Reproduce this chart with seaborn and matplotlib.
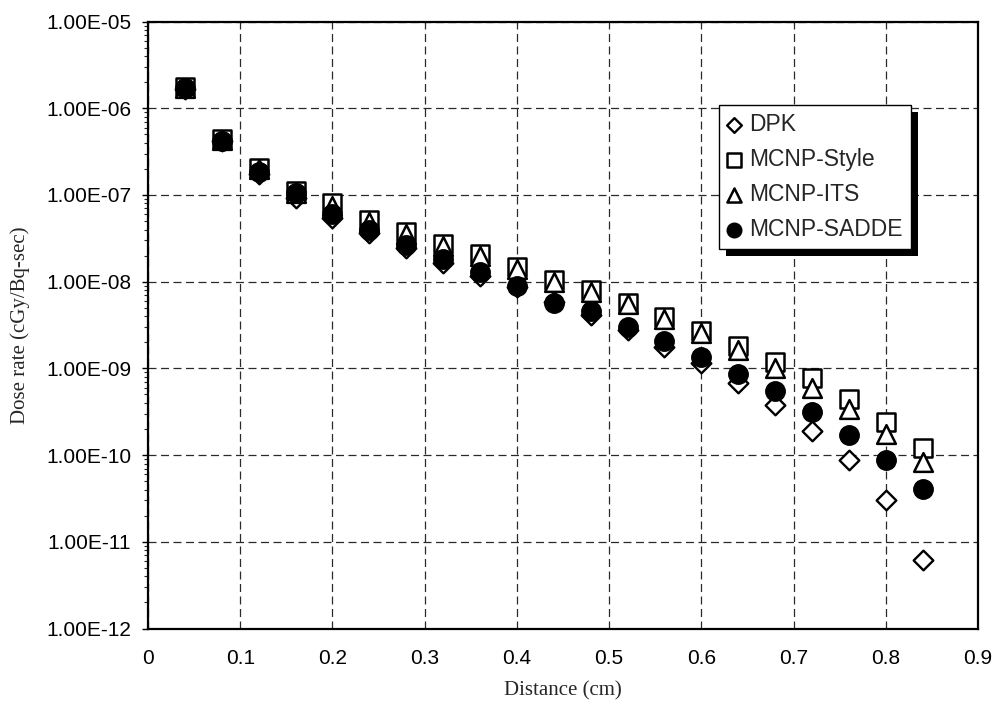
import numpy as np
import pandas as pd
import matplotlib
matplotlib.use("Agg")
import matplotlib.pyplot as plt
import seaborn as sns
from matplotlib.ticker import LogLocator, FuncFormatter, MultipleLocator, NullFormatter, FixedLocator
from matplotlib.patches import Rectangle

distance = [0.04, 0.08, 0.12, 0.16, 0.20, 0.24, 0.28, 0.32, 0.36, 0.40, 0.44,
            0.48, 0.52, 0.56, 0.60, 0.64, 0.68, 0.72, 0.76, 0.80, 0.84]
dpk = [1.65e-6, 4.2e-7, 1.75e-7, 9.2e-8, 5.5e-8, 3.6e-8, 2.45e-8, 1.66e-8, 1.17e-8,
       8.6e-9, 5.8e-9, 4.1e-9, 2.75e-9, 1.78e-9, 1.15e-9, 6.7e-10, 3.8e-10,
       1.9e-10, 8.8e-11, 3.0e-11, 6.2e-12]
mcnp_style = [1.75e-6, 4.45e-7, 2.05e-7, 1.1e-7, 8.0e-8, 5.2e-8, 3.7e-8, 2.7e-8, 2.06e-8,
              1.47e-8, 1.06e-8, 8.0e-9, 5.7e-9, 3.95e-9, 2.7e-9, 1.82e-9, 1.17e-9,
              7.7e-10, 4.46e-10, 2.43e-10, 1.2e-10]
mcnp_its = [1.7e-6, 4.3e-7, 2.0e-7, 1.05e-7, 7.5e-8, 4.9e-8, 3.55e-8, 2.6e-8, 2.0e-8,
            1.4e-8, 1.0e-8, 7.6e-9, 5.5e-9, 3.7e-9, 2.54e-9, 1.64e-9, 1.02e-9,
            6.0e-10, 3.42e-10, 1.75e-10, 8.4e-11]
mcnp_sadde = [1.7e-6, 4.2e-7, 1.85e-7, 1.05e-7, 6.0e-8, 4.0e-8, 2.65e-8, 1.85e-8, 1.3e-8,
              8.9e-9, 5.7e-9, 4.6e-9, 3.03e-9, 2.08e-9, 1.36e-9, 8.7e-10, 5.5e-10,
              3.14e-10, 1.7e-10, 8.8e-11, 4.1e-11]
series_names = ["DPK", "MCNP-Style", "MCNP-ITS", "MCNP-SADDE"]
y_ticks = [1e-12, 1e-11, 1e-10, 1e-9, 1e-8, 1e-7, 1e-6, 1e-5]
x_ticks = [0, 0.1, 0.2, 0.3, 0.4, 0.5, 0.6, 0.7, 0.8, 0.9]

df = pd.DataFrame({"Distance": distance, "DPK": dpk, "MCNP-Style": mcnp_style,
                   "MCNP-ITS": mcnp_its, "MCNP-SADDE": mcnp_sadde})

sns.set_style("white")
plt.rcParams["font.family"] = ["Liberation Sans", "DejaVu Sans"]

fig = plt.figure(figsize=(9.97, 7.10), dpi=100)
ax = fig.add_axes([148/997, 1-628.5/710, 830/997, 606.9/710])

styles = {
    "DPK": dict(marker="D", s=10.0**2, facecolor="white", edgecolor="black", linewidth=1.7),
    "MCNP-Style": dict(marker="s", s=13.0**2, facecolor="white", edgecolor="black", linewidth=1.8),
    "MCNP-ITS": dict(marker="^", s=13.5**2, facecolor="white", edgecolor="black", linewidth=1.8),
    "MCNP-SADDE": dict(marker="o", s=14.0**2, facecolor="black", edgecolor="black", linewidth=1.0),
}
for i, name in enumerate(series_names):
    sns.scatterplot(data=df, x="Distance", y=name, ax=ax, label=name, zorder=3 + i,
                    **styles[name])

ax.set_yscale("log")
ax.set_xlim(0, 0.9)
ax.set_ylim(1e-12, 1e-5)
ax.xaxis.set_major_locator(FixedLocator(x_ticks))
ax.xaxis.set_major_formatter(FuncFormatter(lambda v, p: "0" if abs(v) < 1e-9 else f"{v:.1f}"))
ax.yaxis.set_major_locator(FixedLocator(y_ticks))
ax.yaxis.set_minor_locator(LogLocator(base=10, subs=np.arange(2, 10), numticks=100))
ax.yaxis.set_minor_formatter(NullFormatter())
ax.yaxis.set_major_formatter(FuncFormatter(lambda v, p: f"{v:.2E}"))

ax.grid(True, which="major", color="#2a2a2a", linewidth=0.9, linestyle=(0, (6.4, 3.6)))
ax.set_axisbelow(True)

for sp in ax.spines.values():
    sp.set_color("black")
    sp.set_linewidth(1.6)
    sp.set_visible(True)

ax.tick_params(axis="x", which="major", direction="inout", length=7, width=1,
               labelsize=15, pad=11, colors="black")
ax.tick_params(axis="y", which="major", direction="out", length=4, width=1,
               labelsize=15, pad=8, colors="black", left=True)
ax.tick_params(axis="y", which="minor", direction="out", length=3, width=0.8, left=True)

ax.set_xlabel("Distance (cm)", family=["Liberation Serif"], fontsize=15, labelpad=10)
ax.set_ylabel("Dose rate (cGy/Bq-sec)", family=["Liberation Serif"], fontsize=15, labelpad=12)

leg = ax.legend(loc="upper left", bbox_to_anchor=(0.6883, 0.8626), borderaxespad=0,
                frameon=True, fancybox=False, shadow=False, fontsize=16.5,
                markerscale=0.75, handlelength=0.55, handletextpad=0.4,
                labelspacing=0.52, borderpad=0.35)
frame = leg.get_frame()
frame.set_edgecolor("black")
frame.set_linewidth(1.0)
frame.set_facecolor("white")
frame.set_alpha(1)
leg.set_zorder(20)

fig.canvas.draw()
bb = leg.get_window_extent()
shadow = Rectangle((bb.x0 + 7, bb.y0 - 7), bb.width, bb.height, transform=None,
                   facecolor="black", edgecolor="none", zorder=19)
ax.add_artist(shadow)

fig.savefig("out.png", dpi=100, facecolor="white")
